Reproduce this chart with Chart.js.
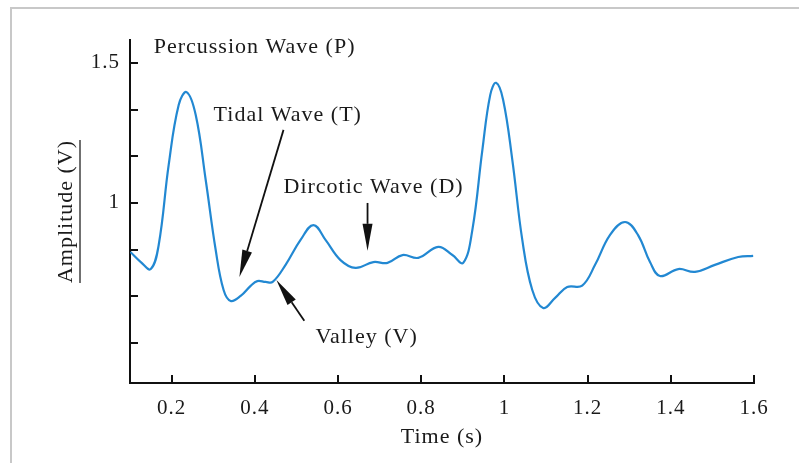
<!DOCTYPE html>
<html>
<head>
<meta charset="utf-8">
<script src="https://cdn.jsdelivr.net/npm/chart.js@4.4.1/dist/chart.umd.min.js"></script>
<style>
  html, body { margin: 0; padding: 0; background: #fff; }
  #wrap { position: relative; width: 799px; height: 463px; }
  #frame { position: absolute; left: 10px; top: 7px; right: 0; bottom: 0;
           border-left: 2px solid #c8c8c8; border-top: 2px solid #c8c8c8; pointer-events: none; }
</style>
</head>
<body>
<div id="wrap">
  <canvas id="pulseChart" width="799" height="463"></canvas>
  <div id="frame"></div>
</div>
<script>
// pulse wave
const time = [0.101, 0.126, 0.150, 0.169, 0.193, 0.217, 0.236, 0.258, 0.282, 0.306, 0.325, 0.342,
  0.366, 0.390, 0.406, 0.426, 0.443, 0.474, 0.510, 0.541, 0.570, 0.606, 0.642, 0.685, 0.719,
  0.755, 0.793, 0.841, 0.875, 0.901, 0.923, 0.947, 0.966, 0.980, 0.997, 1.019, 1.043, 1.067,
  1.093, 1.122, 1.151, 1.187, 1.218, 1.254, 1.290, 1.321, 1.350, 1.374, 1.418, 1.458, 1.506,
  1.562, 1.598];
const amplitude = [0.825, 0.789, 0.764, 0.850, 1.136, 1.350, 1.396, 1.314, 1.082, 0.832, 0.689, 0.650,
  0.668, 0.704, 0.721, 0.718, 0.718, 0.779, 0.868, 0.921, 0.868, 0.796, 0.768, 0.789, 0.786,
  0.814, 0.804, 0.843, 0.814, 0.786, 0.904, 1.189, 1.386, 1.429, 1.368, 1.154, 0.868, 0.689,
  0.625, 0.661, 0.700, 0.705, 0.779, 0.886, 0.932, 0.886, 0.789, 0.739, 0.764, 0.754, 0.779,
  0.807, 0.811];

const xTicks = [0.2, 0.4, 0.6, 0.8, 1, 1.2, 1.4, 1.6];
const yTicks = [0.5, 0.6667, 0.8333, 1, 1.1667, 1.3333, 1.5];
const yTickLabels = ['', '', '', '1', '', '', '1.5'];

// annotations (data units)
const noteText = ['Percussion Wave (P)', 'Tidal Wave (T)', 'Dircotic Wave (D)', 'Valley (V)'];
const noteX = [0.157, 0.301, 0.469, 0.546];
const noteY = [1.557, 1.314, 1.057, 0.521];
const arrowFrom = [[0.469, 1.261], [0.671, 1.0], [0.519, 0.579]];
const arrowTo = [[0.363, 0.736], [0.671, 0.829], [0.452, 0.725]];

const serif = '"Liberation Serif", "Times New Roman", serif';

const spacing = {
  id: 'spacing',
  beforeUpdate(chart) { chart.ctx.letterSpacing = '1px'; },
  beforeDraw(chart) { chart.ctx.letterSpacing = '1px'; }
};

const notes = {
  id: 'notes',
  afterDraw(chart) {
    const ctx = chart.ctx;
    const xs = chart.scales.x, ys = chart.scales.y;
    ctx.save();
    ctx.font = '22px ' + serif;
    ctx.fillStyle = '#1a1a1a';
    ctx.textAlign = 'left';
    ctx.textBaseline = 'middle';
    noteText.forEach((t, i) => {
      ctx.fillText(t, xs.getPixelForValue(noteX[i]), ys.getPixelForValue(noteY[i]));
    });
    // arrows
    ctx.strokeStyle = '#111';
    ctx.fillStyle = '#111';
    ctx.lineWidth = 1.8;
    arrowFrom.forEach((f, i) => {
      const x1 = xs.getPixelForValue(f[0]), y1 = ys.getPixelForValue(f[1]);
      const x2 = xs.getPixelForValue(arrowTo[i][0]), y2 = ys.getPixelForValue(arrowTo[i][1]);
      const a = Math.atan2(y2 - y1, x2 - x1);
      const len = 27, hw = 5;
      const bx = x2 - len * Math.cos(a), by = y2 - len * Math.sin(a);
      ctx.beginPath();
      ctx.moveTo(x1, y1);
      ctx.lineTo(bx, by);
      ctx.stroke();
      ctx.beginPath();
      ctx.moveTo(x2, y2);
      ctx.lineTo(bx + hw * Math.sin(a), by - hw * Math.cos(a));
      ctx.lineTo(bx - hw * Math.sin(a), by + hw * Math.cos(a));
      ctx.closePath();
      ctx.fill();
    });
    // underline of the y title
    const ca = chart.chartArea;
    const w = ctx.measureText('Amplitude (V)').width;
    const cy = (ca.top + ca.bottom) / 2;
    ctx.strokeStyle = '#333';
    ctx.lineWidth = 1.4;
    ctx.beginPath();
    ctx.moveTo(80, cy - w / 2);
    ctx.lineTo(80, cy + w / 2);
    ctx.stroke();
    ctx.restore();
  }
};

const ctx1 = document.getElementById('pulseChart').getContext('2d');
new Chart(ctx1, {
  type: 'line',
  data: {
    datasets: [{
      label: 'Amplitude',
      data: time.map((t, i) => ({ x: t, y: amplitude[i] })),
      borderColor: '#2288d2',
      borderWidth: 2.2,
      pointRadius: 0,
      fill: false,
      tension: 0.4
    }]
  },
  options: {
    responsive: false,
    animation: false,
    layout: { padding: { top: 40, right: 45, left: 0, bottom: 0 } },
    plugins: { legend: { display: false }, tooltip: { enabled: false } },
    scales: {
      x: {
        type: 'linear',
        min: 0.1,
        max: 1.6,
        afterBuildTicks: s => { s.ticks = xTicks.map(v => ({ value: v })); },
        afterFit: s => { s.height = 80; },
        border: { color: '#111', width: 2 },
        grid: { drawOnChartArea: false, tickLength: -8, color: '#111', lineWidth: 2 },
        ticks: {
          padding: 21,
          color: '#1a1a1a',
          font: { family: serif, size: 21 },
          callback: v => String(+v.toFixed(1))
        },
        title: {
          display: true,
          text: 'Time (s)',
          color: '#1a1a1a',
          font: { family: serif, size: 22 },
          padding: { top: 13, bottom: 13 }
        }
      },
      y: {
        min: 0.357,
        max: 1.582,
        afterBuildTicks: s => { s.ticks = yTicks.map(v => ({ value: v })); },
        afterFit: s => { s.width = 130; },
        border: { color: '#111', width: 2 },
        grid: { drawOnChartArea: false, tickLength: -8, color: '#111', lineWidth: 2 },
        ticks: {
          padding: 18,
          color: '#1a1a1a',
          font: { family: serif, size: 21 },
          callback: (v, i) => yTickLabels[i]
        },
        title: {
          display: true,
          text: 'Amplitude (V)',
          color: '#1a1a1a',
          font: { family: serif, size: 22 },
          padding: { top: 53, bottom: 0 }
        }
      }
    }
  },
  plugins: [spacing, notes]
});
</script>
</body>
</html>
